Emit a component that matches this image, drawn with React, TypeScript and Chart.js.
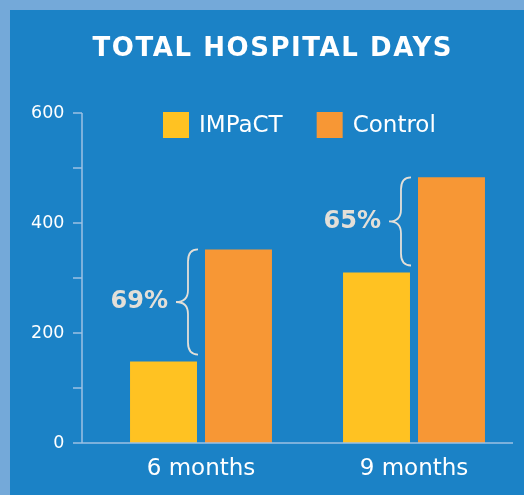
import { useEffect, useRef } from 'react';
import { Chart, registerables } from 'chart.js';

Chart.register(...registerables);

const titleText = 'TOTAL HOSPITAL DAYS';
const categories = ['6 months', '9 months'];
const seriesNames = ['IMPaCT', 'Control'];
const impactValues = [148, 310];
const controlValues = [352, 483];
const reductionLabels = ['69%', '65%'];
const yMin = 0;
const yMax = 600;
const yLabelStep = 200;
const yMinorStep = 100;

const COLORS = {
  outer: '#74a9d9',
  inner: '#1b82c6',
  impact: '#ffc222',
  control: '#f79735',
  axis: '#9dc1e4',
  note: '#e3dfd8',
  text: '#ffffff',
};
const FONT = '"DejaVu Sans", sans-serif';

const decorPlugin = {
  id: 'decor',
  afterDraw(chart: any) {
    const { ctx, chartArea, scales } = chart;
    const y = scales.y;
    ctx.save();

    // Title with letter spacing
    ctx.font = `bold 26px ${FONT}`;
    ctx.fillStyle = COLORS.text;
    ctx.textAlign = 'left';
    ctx.textBaseline = 'middle';
    const targetW = 359;
    const baseW = ctx.measureText(titleText).width;
    const sp = (targetW - baseW) / (titleText.length - 1);
    (ctx as any).letterSpacing = `${sp}px`;
    ctx.fillText(titleText, chart.width / 2 + 5 - targetW / 2, 39);
    (ctx as any).letterSpacing = '0px';

    // Axis lines and tick marks
    const axisX = chartArea.left - 12.5;
    const y0 = y.getPixelForValue(yMin);
    const yTop = y.getPixelForValue(yMax);
    ctx.strokeStyle = COLORS.axis;
    ctx.lineWidth = 1.5;
    ctx.beginPath();
    ctx.moveTo(axisX, yTop);
    ctx.lineTo(axisX, y0);
    for (let v = yMin; v <= yMax; v += yMinorStep) {
      const py = y.getPixelForValue(v);
      ctx.moveTo(axisX - 9, py);
      ctx.lineTo(axisX, py);
    }
    ctx.moveTo(axisX - 9, y0);
    ctx.lineTo(chartArea.right - 7.5, y0);
    ctx.stroke();

    // Legend
    ctx.font = `23px ${FONT}`;
    ctx.textBaseline = 'middle';
    let lx = chartArea.left + 68.5;
    const ly = yTop - 1;
    const box = 26;
    const legendColors = [COLORS.impact, COLORS.control];
    seriesNames.forEach((name, i) => {
      ctx.fillStyle = legendColors[i];
      ctx.fillRect(lx, ly, box, box);
      ctx.fillStyle = COLORS.text;
      ctx.fillText(name, lx + box + 10, ly + box / 2 + 1);
      lx += box + 10 + ctx.measureText(name).width + 34;
    });

    // Braces and reduction labels
    const impactMeta = chart.getDatasetMeta(0);
    ctx.strokeStyle = COLORS.note;
    ctx.lineWidth = 1.8;
    ctx.fillStyle = COLORS.note;
    ctx.font = `bold 24px ${FONT}`;
    ctx.textAlign = 'right';
    categories.forEach((_, i) => {
      const bar = impactMeta.data[i];
      const R = bar.x + bar.width / 2 + 1;
      const B = R - 10;
      const T = B - 12;
      const top = y.getPixelForValue(controlValues[i]);
      const bottom = y.getPixelForValue(impactValues[i]) - 7;
      const mid = (top + bottom) / 2;
      const r = 12;
      ctx.beginPath();
      ctx.moveTo(R, top);
      ctx.quadraticCurveTo(B, top, B, top + r);
      ctx.lineTo(B, mid - r);
      ctx.quadraticCurveTo(B, mid, T, mid);
      ctx.quadraticCurveTo(B, mid, B, mid + r);
      ctx.lineTo(B, bottom - r);
      ctx.quadraticCurveTo(B, bottom, R, bottom);
      ctx.stroke();
      ctx.fillText(reductionLabels[i], T - 8, mid);
    });

    ctx.restore();
  },
};

export default function App() {
  const ref = useRef<HTMLCanvasElement>(null);

  useEffect(() => {
    if (!ref.current) return;
    const chart = new Chart(ref.current, {
      type: 'bar',
      data: {
        labels: categories,
        datasets: [
          {
            label: seriesNames[0],
            data: impactValues,
            backgroundColor: COLORS.impact,
            categoryPercentage: 0.704,
            barPercentage: 0.893,
          },
          {
            label: seriesNames[1],
            data: controlValues,
            backgroundColor: COLORS.control,
            categoryPercentage: 0.704,
            barPercentage: 0.893,
          },
        ],
      },
      options: {
        responsive: false,
        animation: false,
        layout: { padding: { top: 103, left: 20, right: 3.5, bottom: 0.4 } },
        plugins: {
          legend: { display: false },
          title: { display: false },
          tooltip: { enabled: false },
        },
        scales: {
          x: {
            grid: { display: false, drawTicks: false },
            border: { display: false },
            ticks: { color: COLORS.text, font: { family: FONT, size: 23 }, padding: 12 },
          },
          y: {
            min: yMin,
            max: yMax,
            grid: { display: false, drawTicks: false },
            border: { display: false },
            ticks: {
              stepSize: yLabelStep,
              color: COLORS.text,
              font: { family: FONT, size: 17.5 },
              padding: 30,
            },
            afterFit(scale: any) {
              scale.width = 64.5;
            },
          },
        },
      },
      plugins: [decorPlugin],
    });
    return () => chart.destroy();
  }, []);

  return (
    <div style={{ position: 'fixed', left: 0, top: 0, width: 524, height: 495, background: COLORS.outer }}>
      <div style={{ position: 'absolute', left: 10, top: 10, width: 514, height: 485, background: COLORS.inner }}>
        <canvas ref={ref} width={514} height={485} style={{ display: 'block' }} />
      </div>
    </div>
  );
}
